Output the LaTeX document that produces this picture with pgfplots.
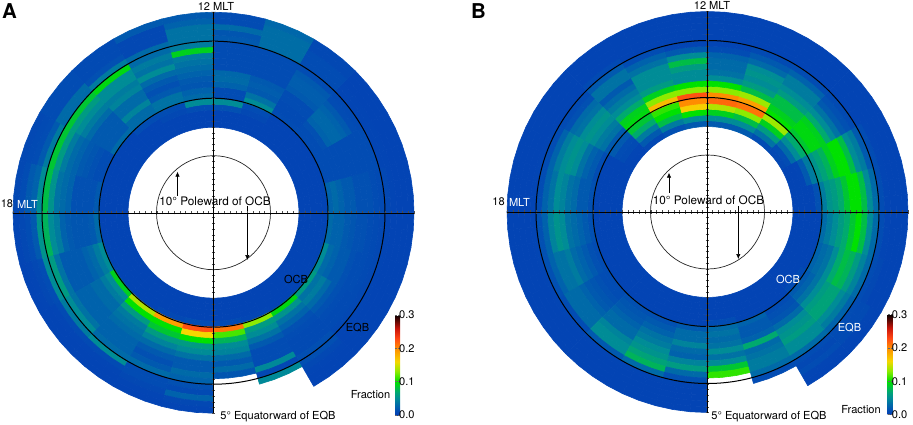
\documentclass[border=0pt]{standalone}
\usepackage{fontspec}
\setmainfont{TeX Gyre Heros}
\usepackage{pgfplots}
\pgfplotsset{compat=1.18}
\usetikzlibrary{arrows.meta}

% fraction per cell: one row per MLT hour (0-23), rings from the inside out,
% 5.75 px wide, starting 5 deg poleward of the OCB
\def\dataA{{0.005,0.005,0.005,0.005,0.010,0.210,0.115,0.075,0.050,0.045,0.030,0.020,0.030,0.018},%
{0.005,0.005,0.005,0.005,0.007,0.130,0.060,0.050,0.035,0.020,0.012,0.012,0.012,0.048,0.008,0.048},%
{0.005,0.005,0.005,0.005,0.005,0.095,0.055,0.035,0.025,0.015,0.012,0.010,0.010,0.010,0.014,0.014,0.008,0.006,0.005,0.005},%
{0.005,0.005,0.005,0.005,0.005,0.060,0.035,0.040,0.030,0.020,0.015,0.012,0.010,0.010,0.008,0.006,0.005,0.005,0.005,0.005},%
{0.005,0.005,0.005,0.005,0.005,0.050,0.030,0.025,0.020,0.020,0.015,0.012,0.012,0.010,0.008,0.006,0.005,0.005,0.005,0.005},%
{0.005,0.005,0.005,0.005,0.005,0.030,0.025,0.025,0.020,0.018,0.015,0.015,0.012,0.010,0.008,0.006,0.005,0.005,0.005,0.005},%
{0.005,0.005,0.005,0.005,0.005,0.025,0.030,0.025,0.020,0.020,0.015,0.015,0.015,0.012,0.010,0.008,0.006,0.005,0.005,0.005},%
{0.005,0.005,0.005,0.005,0.005,0.012,0.012,0.012,0.012,0.012,0.012,0.012,0.012,0.012,0.012,0.006,0.006,0.005,0.005,0.005},%
{0.005,0.005,0.005,0.005,0.005,0.012,0.012,0.015,0.025,0.028,0.028,0.025,0.020,0.012,0.010,0.006,0.006,0.005,0.005,0.005},%
{0.005,0.005,0.005,0.005,0.005,0.012,0.010,0.010,0.012,0.012,0.020,0.022,0.022,0.020,0.012,0.012,0.012,0.012,0.008,0.008},%
{0.005,0.005,0.005,0.008,0.012,0.050,0.035,0.020,0.022,0.020,0.012,0.012,0.012,0.012,0.012,0.032,0.032,0.032,0.032,0.028},%
{0.005,0.005,0.005,0.015,0.050,0.012,0.012,0.025,0.030,0.028,0.012,0.012,0.012,0.012,0.012,0.020,0.018,0.030,0.012,0.012},%
{0.005,0.005,0.005,0.012,0.050,0.030,0.025,0.018,0.020,0.025,0.030,0.035,0.040,0.090,0.040,0.035,0.035,0.035,0.025,0.020},%
{0.005,0.005,0.005,0.008,0.012,0.035,0.035,0.020,0.015,0.020,0.030,0.050,0.035,0.040,0.030,0.030,0.008,0.008,0.008,0.020},%
{0.005,0.005,0.005,0.005,0.012,0.030,0.030,0.045,0.030,0.030,0.045,0.040,0.050,0.050,0.095,0.040,0.015,0.010,0.010,0.010},%
{0.005,0.005,0.005,0.005,0.005,0.030,0.020,0.020,0.020,0.020,0.030,0.040,0.050,0.060,0.085,0.030,0.030,0.012,0.012,0.012},%
{0.005,0.005,0.005,0.005,0.005,0.012,0.012,0.015,0.018,0.020,0.025,0.030,0.040,0.060,0.085,0.040,0.020,0.012,0.010,0.008},%
{0.005,0.005,0.005,0.005,0.005,0.020,0.015,0.015,0.015,0.015,0.025,0.030,0.035,0.055,0.080,0.050,0.025,0.020,0.012,0.008},%
{0.005,0.005,0.005,0.005,0.005,0.030,0.020,0.018,0.018,0.018,0.020,0.025,0.040,0.050,0.075,0.055,0.020,0.012,0.008,0.006},%
{0.005,0.005,0.005,0.005,0.005,0.050,0.040,0.030,0.025,0.020,0.020,0.020,0.020,0.035,0.060,0.050,0.012,0.008,0.006,0.005},%
{0.005,0.005,0.005,0.005,0.005,0.090,0.050,0.040,0.030,0.030,0.025,0.025,0.025,0.035,0.050,0.040,0.010,0.006,0.005,0.005},%
{0.005,0.005,0.005,0.005,0.005,0.140,0.100,0.060,0.040,0.035,0.030,0.025,0.025,0.025,0.030,0.050,0.010,0.006,0.005,0.005},%
{0.005,0.005,0.005,0.005,0.008,0.190,0.100,0.085,0.060,0.045,0.030,0.020,0.015,0.020,0.030,0.012,0.012,0.008,0.006,0.005},%
{0.005,0.005,0.005,0.005,0.012,0.225,0.160,0.100,0.060,0.050,0.035,0.020,0.020,0.030,0.025,0.015,0.010,0.025,0.008,0.006}}

\def\dataB{{0.005,0.005,0.005,0.005,0.012,0.030,0.035,0.030,0.035,0.050,0.035,0.050,0.085,0.110},%
{0.005,0.005,0.005,0.005,0.005,0.025,0.020,0.020,0.025,0.070,0.030,0.035,0.040,0.040,0.030,0.012},%
{0.005,0.005,0.005,0.005,0.005,0.012,0.015,0.018,0.030,0.050,0.055,0.060,0.050,0.050,0.030,0.012,0.008,0.012,0.006,0.005},%
{0.005,0.005,0.005,0.005,0.010,0.020,0.025,0.035,0.050,0.060,0.065,0.065,0.050,0.040,0.025,0.012,0.010,0.010,0.006,0.005},%
{0.005,0.005,0.005,0.005,0.005,0.025,0.030,0.035,0.050,0.070,0.080,0.075,0.060,0.045,0.030,0.012,0.008,0.005,0.005,0.005},%
{0.005,0.005,0.005,0.005,0.005,0.030,0.040,0.050,0.060,0.070,0.085,0.100,0.080,0.050,0.030,0.012,0.006,0.005,0.005,0.005},%
{0.005,0.005,0.005,0.005,0.015,0.040,0.055,0.060,0.070,0.085,0.100,0.100,0.080,0.050,0.030,0.012,0.006,0.005,0.005,0.005},%
{0.005,0.005,0.006,0.020,0.040,0.055,0.065,0.075,0.090,0.100,0.100,0.080,0.050,0.040,0.020,0.012,0.006,0.005,0.005,0.005},%
{0.008,0.012,0.030,0.050,0.070,0.085,0.095,0.095,0.090,0.070,0.050,0.035,0.020,0.015,0.010,0.005,0.005,0.005,0.005,0.005},%
{0.012,0.035,0.060,0.090,0.135,0.100,0.090,0.080,0.080,0.060,0.050,0.040,0.040,0.025,0.012,0.005,0.005,0.005,0.005,0.005},%
{0.020,0.050,0.080,0.130,0.210,0.190,0.135,0.080,0.060,0.050,0.055,0.050,0.030,0.020,0.010,0.005,0.005,0.005,0.005,0.005},%
{0.020,0.050,0.090,0.140,0.215,0.200,0.130,0.100,0.050,0.035,0.030,0.030,0.025,0.012,0.006,0.005,0.005,0.005,0.005,0.005},%
{0.020,0.050,0.100,0.165,0.200,0.225,0.130,0.100,0.050,0.050,0.060,0.080,0.050,0.020,0.006,0.005,0.005,0.005,0.005,0.005},%
{0.015,0.040,0.080,0.100,0.110,0.175,0.130,0.090,0.060,0.050,0.050,0.050,0.035,0.025,0.012,0.005,0.005,0.005,0.005,0.005},%
{0.008,0.020,0.040,0.070,0.085,0.095,0.090,0.070,0.050,0.040,0.030,0.020,0.035,0.035,0.020,0.010,0.005,0.005,0.005,0.005},%
{0.005,0.006,0.010,0.012,0.020,0.020,0.035,0.040,0.050,0.055,0.050,0.035,0.030,0.015,0.010,0.005,0.005,0.005,0.005,0.005},%
{0.005,0.005,0.005,0.005,0.005,0.012,0.020,0.025,0.035,0.050,0.055,0.050,0.040,0.025,0.012,0.006,0.005,0.005,0.005,0.005},%
{0.005,0.005,0.005,0.005,0.005,0.015,0.020,0.020,0.030,0.035,0.045,0.050,0.035,0.025,0.012,0.006,0.005,0.005,0.005,0.005},%
{0.005,0.005,0.005,0.005,0.005,0.015,0.020,0.025,0.030,0.035,0.050,0.055,0.045,0.025,0.015,0.006,0.005,0.005,0.005,0.005},%
{0.005,0.005,0.005,0.005,0.005,0.012,0.015,0.020,0.025,0.030,0.040,0.035,0.035,0.025,0.015,0.006,0.005,0.005,0.005,0.005},%
{0.005,0.005,0.005,0.005,0.005,0.012,0.012,0.015,0.018,0.020,0.025,0.030,0.030,0.030,0.012,0.006,0.005,0.005,0.005,0.005},%
{0.005,0.005,0.005,0.005,0.005,0.015,0.018,0.020,0.025,0.030,0.030,0.045,0.050,0.050,0.020,0.006,0.005,0.005,0.005,0.005},%
{0.005,0.005,0.005,0.005,0.005,0.015,0.020,0.025,0.035,0.040,0.050,0.055,0.065,0.075,0.030,0.006,0.005,0.005,0.005,0.005},%
{0.005,0.005,0.005,0.005,0.005,0.020,0.030,0.030,0.045,0.030,0.025,0.045,0.060,0.030,0.015,0.006,0.005,0.005,0.005,0.005}}

% each hour is cut in three quads so that the arcs stay round
\newcommand\polarcells[1]{%
  \foreach \row [count=\s from -6] in #1 {%
    \gdef\cells{}%
    \foreach \v [count=\k from 0] in \row {%
      \pgfmathsetmacro\ri{85.5+5.75*\k}%
      \pgfmathsetmacro\ro{\ri+5.75}%
      \foreach \j in {0,5,10} {%
        \pgfmathtruncatemacro\ta{\s*15+\j}%
        \pgfmathtruncatemacro\tb{\ta+5}%
        \xdef\cells{\cells (\ta,\ri)[\v] (\tb,\ri)[\v] (\tb,\ro)[\v] (\ta,\ro)[\v] }%
      }%
    }%
    \edef\temp{\noexpand\addplot[cell] coordinates {\cells};}\temp
  }%
}

\pgfplotsset{
  colormap={frac}{rgb255(0pt)=(2,62,178) rgb255(5pt)=(3,68,180) rgb255(15pt)=(2,80,178)
    rgb255(25pt)=(0,98,172) rgb255(35pt)=(0,114,164) rgb255(50pt)=(0,140,150)
    rgb255(70pt)=(0,170,110) rgb255(90pt)=(0,208,30) rgb255(100pt)=(0,225,0)
    rgb255(130pt)=(140,235,0) rgb255(160pt)=(245,215,0) rgb255(200pt)=(255,140,0)
    rgb255(230pt)=(255,70,20) rgb255(260pt)=(200,20,10) rgb255(300pt)=(10,0,0)},
  cell/.style={data cs=polar, patch, patch type=rectangle, shader=faceted,
    faceted color=mapped color, line width=0.6bp, point meta=explicit},
  ring axis/.style={
    scale only axis, width=401bp, height=401bp,
    xmin=-200.5, xmax=200.5, ymin=-200.5, ymax=200.5,
    axis lines=center, axis line style={-, draw=black, line width=0.3bp},
    axis on top, clip=false,
    xtick={-200.5,-194.75,...,-5,5,10.75,...,200.5},
    ytick={-200.5,-194.75,...,-5,5,10.75,...,200.5},
    xticklabels={}, yticklabels={},
    tick align=center, major tick length=3.5bp,
    tick style={draw=black!70, line width=0.4bp},
    colormap name=frac, point meta min=0, point meta max=0.3,
    colorbar,
  },
  fraction bar/.style={
    colorbar style={
      at={(#1)}, anchor=south west,
      scale only axis, width=5bp, height=100bp,
      axis line style={draw=none},
      ytick={0,0.1,0.2,0.3},
      yticklabel style={font=\fontsize{11.1}{13}\selectfont,
        /pgf/number format/assume math mode=true,
        /pgf/number format/fixed, /pgf/number format/fixed zerofill,
        /pgf/number format/precision=1, xshift=-1bp},
      major tick length=2bp,
      ytick style={black!60, line width=0.4bp},
    },
  },
}

\begin{document}
\fontsize{11.1}{13}\selectfont
\begin{tikzpicture}[x=1bp,y=1bp,inner sep=0pt]
\useasboundingbox (0,0) rectangle (913,424);

% panel A
\begin{axis}[ring axis, fraction bar={0.9526,-0.0045}, at={(13bp,10.8bp)}, anchor=south west]
  \polarcells{\dataA}
  \draw[line width=1bp] (axis cs:0,0) circle[radius=171.5bp];
  \draw[line width=1bp] (axis cs:0,0) circle[radius=114.5bp];
  \draw[line width=0.7bp, black!85] (axis cs:0,0) circle[radius=57bp];
  \draw[-{Latex[length=5bp,width=4.5bp]}, line width=0.7bp] (axis cs:-36,16.7) -- (axis cs:-36,41);
  \draw[-{Latex[length=5bp,width=4.5bp]}, line width=0.7bp] (axis cs:33.8,6.7) -- (axis cs:33.8,-47.3);
  \node at (axis cs:2.5,206.7) {12 MLT};
  \node at (axis cs:-206.5,8.7) {18};
  \node[white] at (axis cs:-186,8.7) {MLT};
  \node[font=\fontsize{11.8}{14}\selectfont] at (axis cs:1.5,11) {10° Poleward of OCB};
  \node at (axis cs:82.5,-66.3) {OCB};
  \node at (axis cs:144,-115.3) {EQB};
  \node at (axis cs:64.5,-204.3) {5° Equatorward of EQB};
  \node at (axis cs:157,-182.3) {Fraction};
  \node[font=\fontsize{20.5}{22}\selectfont\bfseries] at (axis cs:-204,201.7) {A};
\end{axis}

% panel B
\begin{axis}[ring axis, fraction bar={0.9494,-0.005}, at={(507bp,11.5bp)}, anchor=south west]
  \polarcells{\dataB}
  \draw[line width=1bp] (axis cs:0,0) circle[radius=171.5bp];
  \draw[line width=1bp] (axis cs:0,0) circle[radius=114.5bp];
  \draw[line width=0.7bp, black!85] (axis cs:0,0) circle[radius=57bp];
  \draw[-{Latex[length=5bp,width=4.5bp]}, line width=0.7bp] (axis cs:-38.5,19) -- (axis cs:-38.5,39.3);
  \draw[-{Latex[length=5bp,width=4.5bp]}, line width=0.7bp] (axis cs:30.8,6) -- (axis cs:30.8,-47);
  \node at (axis cs:4.5,207) {12 MLT};
  \node at (axis cs:-209,10) {18};
  \node[white] at (axis cs:-188,10) {MLT};
  \node[font=\fontsize{11.8}{14}\selectfont] at (axis cs:1,12) {10° Poleward of OCB};
  \node[white] at (axis cs:80.5,-67) {OCB};
  \node[white] at (axis cs:142,-116) {EQB};
  \node at (axis cs:61.5,-205) {5° Equatorward of EQB};
  \node at (axis cs:153.5,-198) {Fraction};
  \node[font=\fontsize{20.5}{22}\selectfont\bfseries] at (axis cs:-229,201) {B};
\end{axis}
\end{tikzpicture}
\end{document}
